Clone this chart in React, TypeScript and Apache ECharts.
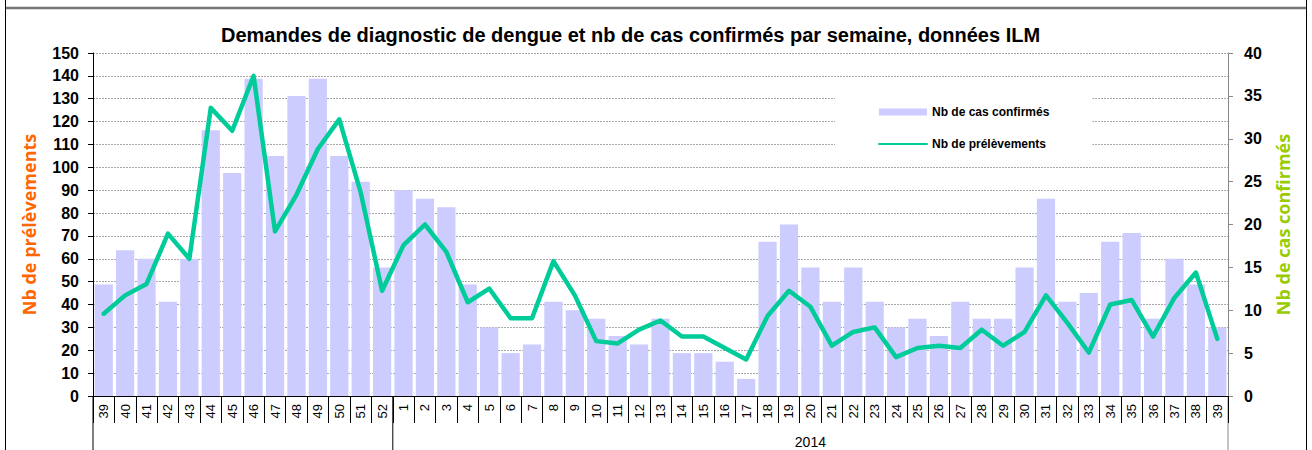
import React, { useEffect, useRef } from "react";
import * as echarts from "echarts";

const weeks = [
  "39", "40", "41", "42", "43", "44", "45", "46", "47", "48", "49", "50", "51", "52",
  "1", "2", "3", "4", "5", "6", "7", "8", "9", "10",
  "11", "12", "13", "14", "15", "16", "17", "18", "19", "20",
  "21", "22", "23", "24", "25", "26", "27", "28", "29", "30",
  "31", "32", "33", "34", "35", "36", "37", "38", "39",
];

const casConfirmes = [
  13, 17, 16, 11, 16, 31, 26, 37, 28, 35, 37, 28, 25, 15,
  24, 23, 22, 13, 8, 5, 6, 11, 10, 9,
  7, 6, 9, 5, 5, 4, 2, 18, 20, 15,
  11, 15, 11, 8, 9, 7, 11, 9, 9, 15,
  23, 11, 12, 18, 19, 9, 16, 13, 8,
];

const prelevements = [
  36, 44, 49, 71, 60, 126, 116, 140, 72, 88, 108, 121, 89, 46,
  66, 75, 63, 41, 47, 34, 34, 59, 44, 24,
  23, 29, 33, 26, 26, 21, 16, 35, 46, 39,
  22, 28, 30, 17, 21, 22, 21, 29, 22, 28,
  44, 32, 19, 40, 42, 26, 43, 54, 25,
];

const yearLabel = "2014";
const firstYearCount = 14; // weeks 39..52 of 2013
const titleText =
  "Demandes de diagnostic de dengue et nb de cas confirmés par semaine, données ILM";

const W = 1312;
const H = 450;
const GRID_LEFT = 93;
const GRID_RIGHT_X = 1228;
const GRID_TOP = 53;
const GRID_BOTTOM_Y = 396;

export default function App() {
  const ref = useRef<HTMLDivElement>(null);

  useEffect(() => {
    if (!ref.current) return;
    const chart = echarts.init(ref.current, null, { renderer: "svg" });
    const font = "'Liberation Sans', Arial, sans-serif";
    const catW = (GRID_RIGHT_X - GRID_LEFT) / weeks.length;
    const splitX = GRID_LEFT + firstYearCount * catW;
    const yearCenter = (splitX + GRID_RIGHT_X) / 2;

    chart.setOption({
      animation: false,
      backgroundColor: "#fff",
      title: {
        text: titleText,
        left: 221,
        top: 25,
        padding: 0,
        textStyle: { fontFamily: font, fontSize: 20, fontWeight: "bold", color: "#000" },
      },
      legend: {
        orient: "vertical",
        left: 835,
        top: 88,
        backgroundColor: "#fff",
        padding: [18, 43, 8, 43],
        itemWidth: 48,
        itemHeight: 7,
        itemGap: 20,
        textStyle: { fontFamily: font, fontSize: 12, fontWeight: "bold", color: "#000" },
        data: [
          { name: "Nb de cas confirmés", icon: "rect" },
          { name: "Nb de prélèvements", itemStyle: { opacity: 0 } },
        ],
      },
      grid: {
        left: GRID_LEFT,
        right: W - GRID_RIGHT_X,
        top: GRID_TOP,
        bottom: H - GRID_BOTTOM_Y,
        containLabel: false,
      },
      xAxis: {
        type: "category",
        data: weeks,
        boundaryGap: true,
        axisLine: { show: true, lineStyle: { color: "#000", width: 1 } },
        axisTick: { show: true, interval: 0, length: 27, lineStyle: { color: "#000" } },
        axisLabel: {
          interval: 0,
          rotate: 90,
          margin: 8,
          fontFamily: font,
          fontSize: 13,
          color: "#000",
        },
        splitLine: { show: false },
      },
      yAxis: [
        {
          type: "value",
          min: 0,
          max: 150,
          interval: 10,
          position: "left",
          name: "Nb de prélèvements",
          nameLocation: "middle",
          nameRotate: 90,
          nameGap: 55,
          nameTextStyle: {
            fontFamily: "'Open Sans', sans-serif",
            fontSize: 18,
            fontWeight: "bold",
            color: "#FF6600",
          },
          axisLine: { show: true, lineStyle: { color: "#000" } },
          axisTick: { show: true, length: 5, lineStyle: { color: "#000" } },
          axisLabel: {
            margin: 14,
            fontFamily: font,
            fontSize: 16,
            fontWeight: "bold",
            color: "#000",
          },
          splitLine: { show: true, lineStyle: { color: "#a8a8a8", type: [2, 1], width: 1 } },
        },
        {
          type: "value",
          min: 0,
          max: 40,
          interval: 5,
          position: "right",
          name: "Nb de cas confirmés",
          nameLocation: "middle",
          nameRotate: 90,
          nameGap: 46,
          nameTextStyle: {
            fontFamily: "'Open Sans', sans-serif",
            fontSize: 18,
            fontWeight: "bold",
            color: "#99CC00",
          },
          axisLine: { show: true, lineStyle: { color: "#888" } },
          axisTick: { show: true, length: 5, lineStyle: { color: "#888" } },
          axisLabel: {
            margin: 16,
            fontFamily: font,
            fontSize: 16,
            fontWeight: "bold",
            color: "#000",
          },
          splitLine: { show: false },
        },
      ],
      series: [
        {
          name: "Nb de cas confirmés",
          type: "bar",
          yAxisIndex: 1,
          data: casConfirmes,
          barCategoryGap: "15%",
          itemStyle: { color: "#CCCCFF" },
        },
        {
          name: "Nb de prélèvements",
          type: "line",
          yAxisIndex: 0,
          data: prelevements,
          symbol: "none",
          lineStyle: { color: "#00CC99", width: 4.5, join: "round", cap: "round" },
          itemStyle: { color: "#00CC99" },
        },
      ],
      graphic: [
        {
          type: "line",
          shape: { x1: GRID_LEFT, y1: GRID_BOTTOM_Y, x2: GRID_LEFT, y2: H },
          style: { stroke: "#000", lineWidth: 1 },
        },
        {
          type: "line",
          shape: { x1: splitX, y1: GRID_BOTTOM_Y, x2: splitX, y2: H },
          style: { stroke: "#000", lineWidth: 1 },
        },
        {
          type: "line",
          shape: { x1: GRID_RIGHT_X, y1: GRID_BOTTOM_Y, x2: GRID_RIGHT_X, y2: H },
          style: { stroke: "#888", lineWidth: 1 },
        },
        {
          type: "text",
          x: yearCenter,
          y: 442,
          style: {
            text: yearLabel,
            fontFamily: font,
            fontSize: 14,
            fill: "#000",
            align: "center",
            verticalAlign: "middle",
          },
        },
        {
          type: "line",
          shape: { x1: 5.5, y1: 8, x2: 1306.5, y2: 8 },
          style: { stroke: "#777", lineWidth: 2.5 },
        },
        {
          type: "line",
          shape: { x1: 5.5, y1: 0, x2: 5.5, y2: H },
          style: { stroke: "#000", lineWidth: 1 },
        },
        {
          type: "line",
          shape: { x1: 1306.5, y1: 0, x2: 1306.5, y2: H },
          style: { stroke: "#000", lineWidth: 1 },
        },
      ],
    });

    return () => chart.dispose();
  }, []);

  return (
    <div
      ref={ref}
      style={{ position: "absolute", left: 0, top: 0, width: W, height: H }}
    />
  );
}
